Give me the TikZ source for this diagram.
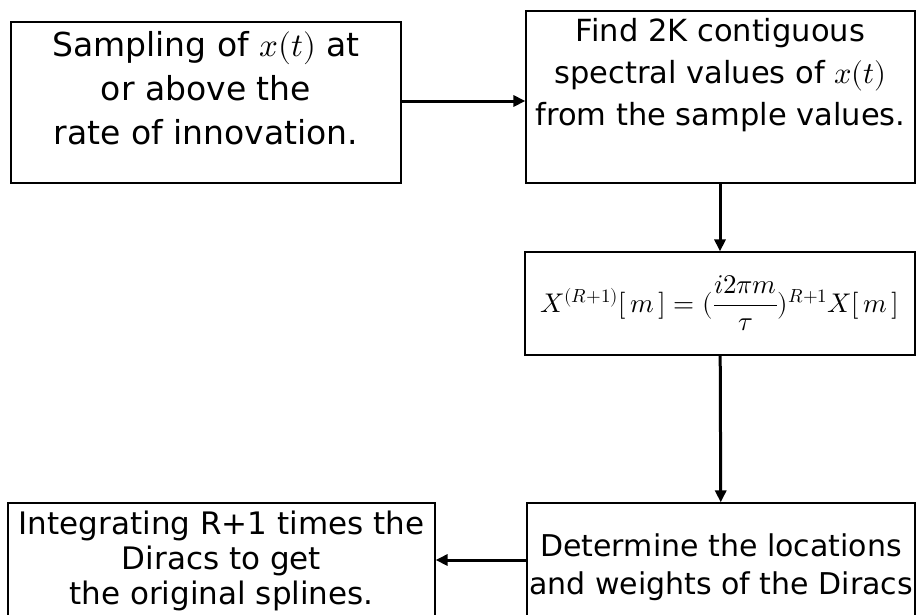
\documentclass[tikz,border=0pt]{standalone}
\usepackage{amsmath}
\usepackage{fontspec}
\usepackage{unicode-math}
\setmainfont{DejaVu Sans}
\setmathfont{Latin Modern Math}
\usetikzlibrary{arrows.meta, positioning}

\begin{document}
\begin{tikzpicture}[
    x=1pt, y=-1pt,
    box/.style={
        draw,
        line width=1.2pt,
        align=center,
        inner sep=0pt
    },
    arrow/.style={
        -{Triangle[length=12pt, width=11pt]},
        line width=3pt
    }
]

\clip (0,0) rectangle (917,614);
\fill[white] (0,0) rectangle (917,614);

\node[box, minimum width=390pt, minimum height=161pt, text depth=30pt,
      font=\fontsize{33}{44}\selectfont] (sampling) at (206,102.5)
    {Sampling of $x(t)$ at\\or above the\\rate of innovation.};

\node[box, minimum width=389pt, minimum height=172pt, text depth=50pt,
      font=\fontsize{30.5}{42}\selectfont] (spectral) at (720.5,97)
    {Find 2K contiguous\\spectral values of $x(t)$\\from the sample values.};

\node[box, minimum width=390pt, minimum height=103pt,
      font=\fontsize{27}{31}\selectfont] (recursion) at (720,303.5)
    {$X^{(R+1)}[\,m\,]=(\dfrac{i2\pi m}{\tau})^{R+1}X[\,m\,]$};

\node[box, minimum width=388pt, minimum height=128pt,
      font=\fontsize{30}{38}\selectfont] (dirac) at (721,567)
    {Determine the locations\\and weights of the Diracs};

\node[box, minimum width=427pt, minimum height=116pt,
      font=\fontsize{31}{35}\selectfont] (splines) at (221.5,561)
    {Integrating R+1 times the\\Diracs to get\\the original splines.};

\draw[arrow] (sampling.east |- 0,101) -- (spectral.west |- 0,101);
\draw[arrow] (spectral.south -| recursion.north) -- (recursion.north);
\draw[arrow] (recursion) -- (dirac);
\draw[arrow] (dirac.west |- 0,560) -- (splines.east |- 0,560);

\end{tikzpicture}
\end{document}
